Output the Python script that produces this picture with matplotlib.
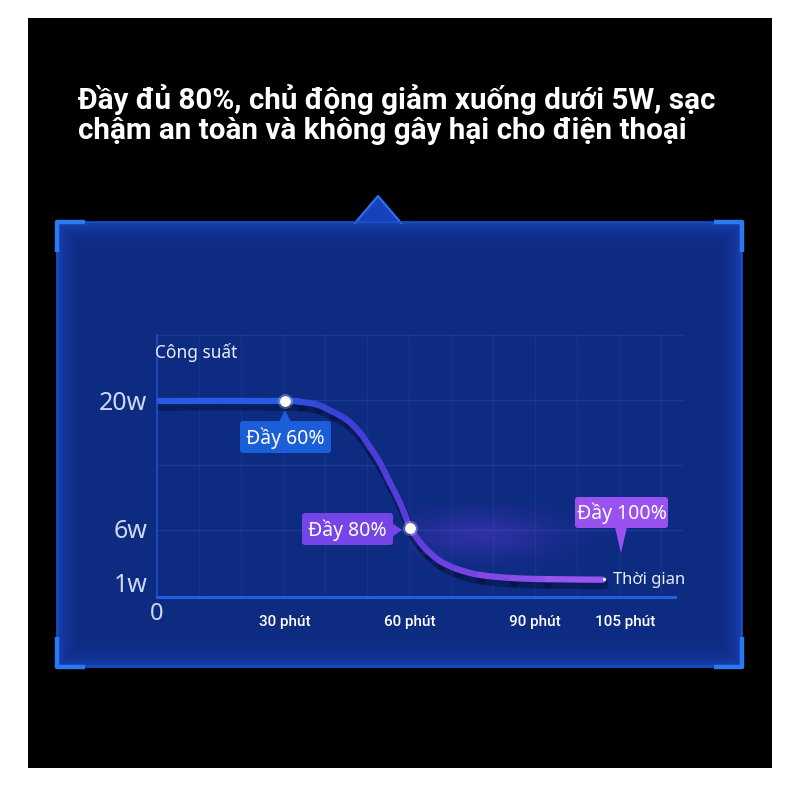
import numpy as np
import matplotlib
matplotlib.use('Agg')
import matplotlib.pyplot as plt
from matplotlib.collections import PathCollection
from matplotlib.colors import LinearSegmentedColormap, to_rgb
from matplotlib.patches import Rectangle, Polygon, FancyBboxPatch, PathPatch
from matplotlib.path import Path
from matplotlib.transforms import ScaledTranslation

plt.rcParams['font.family'] = ['Noto Sans', 'DejaVu Sans']

# values
time_min = [0, 30, 33.6, 37.7, 41.5, 44.9, 48.0, 50.4, 52.8, 55.2, 57.6, 59.5,
            60, 62.4, 64.3, 67.2, 71.3, 76.8, 84.7, 92.0, 101.3]
power_w = [20, 20, 19.9, 19.6, 18.8, 17.9, 16.5, 14.9, 13.2, 11.0, 8.8, 6.6,
           6, 4.7, 3.9, 3.0, 2.27, 1.73, 1.45, 1.35, 1.3]

mark_min = [30, 60]
mark_w = [20, 6]

x_ticks = [30, 60, 90, 105]
x_tick_labels = ['30 phút', '60 phút', '90 phút', '105 phút']
y_ticks = [1, 6, 20]
y_tick_labels = ['1w', '6w', '20w']

title_lines = ['Đầy đủ 80%, chủ động giảm xuống dưới 5W, sạc',
               'chậm an toàn và không gây hại cho điện thoại']

# uneven axes as drawn in the picture (pixel offsets from the origin)
X_KNOT_MIN = np.array([0, 30, 60, 90, 105, 120])
X_KNOT_PX = np.array([0, 128, 253, 378, 468, 558])
Y_KNOT_W = np.array([0, 1, 6, 20, 30])
Y_KNOT_PX = np.array([0, 14, 69, 196, 287])


def x_fwd(v):
    return np.interp(v, X_KNOT_MIN, X_KNOT_PX)

def x_inv(p):
    return np.interp(p, X_KNOT_PX, X_KNOT_MIN)

def y_fwd(v):
    return np.interp(v, Y_KNOT_W, Y_KNOT_PX)

def y_inv(p):
    return np.interp(p, Y_KNOT_PX, Y_KNOT_W)


def smooth_paths(xs, ys):
    """one cubic bezier per pair of read points (catmull-rom handles),
    built in scaled space so the bend is drawn round"""
    px = x_fwd(np.asarray(xs, float))
    py = y_fwd(np.asarray(ys, float))
    P = np.column_stack([px, py])
    P = np.vstack([P[0], P, P[-1]])
    paths = []
    for i in range(1, len(P) - 2):
        p0, p1, p2, p3 = P[i - 1], P[i], P[i + 1], P[i + 2]
        c1 = p1 + (p2 - p0) / 6.0
        c2 = p2 - (p3 - p1) / 6.0
        v = np.array([p1, c1, c2, p2])
        v = np.column_stack([x_inv(v[:, 0]), y_inv(v[:, 1])])
        paths.append(Path(v, [Path.MOVETO, Path.CURVE4, Path.CURVE4, Path.CURVE4]))
    return paths


fig = plt.figure(figsize=(8, 8), dpi=100)
fig.patch.set_facecolor('white')

# ---- background / decoration in pixel coords
bg = fig.add_axes([0, 0, 1, 1], zorder=0)
bg.set_axis_off()
bg.add_patch(Rectangle((28, 18), 744, 750, fc='black', ec='none', zorder=0))

H, W = 445, 685
yy, xx = np.mgrid[0:H, 0:W]
d = np.minimum.reduce([xx, W - 1 - xx, yy, H - 1 - yy]).astype(float)
edge = np.exp(-d / 9.0) * 0.8
base = np.array(to_rgb('#0e2b82'))
rim = np.array(to_rgb('#1a48c4'))
img = base + (rim - base) * edge[..., None]
bg.imshow(img, extent=(57, 742, 667, 222), aspect='auto',
          interpolation='bilinear', zorder=1)

bg.add_patch(Polygon([(355, 223), (378, 196), (401, 223)], closed=True,
                     fc='#1542ba', ec='none', zorder=2))
bg.plot([355, 378, 401], [223, 196, 223], color='#2c72ee', lw=1.6, zorder=3)
bg.add_patch(Rectangle((57, 222), 685, 445, fc='none', ec='#1d50cc',
                       lw=1.2, zorder=3))
for cx, cy, sx, sy in [(57, 222, 1, 1), (742, 222, -1, 1),
                       (57, 667, 1, -1), (742, 667, -1, -1)]:
    bg.plot([cx + sx * 28, cx, cx], [cy, cy, cy + sy * 30],
            color='#2b7af3', lw=3.2, solid_capstyle='butt', zorder=4)

# faint grid
for gy in [335, 400, 465, 530]:
    bg.plot([157, 682], [gy, gy], color='#3358c4', lw=1, alpha=0.35, zorder=2)
for gx in np.arange(199, 682, 42):
    bg.plot([gx, gx], [335, 597], color='#2f52bc', lw=1, alpha=0.22, zorder=2)

# purple haze right of the 80% point
hy, hx = np.mgrid[0:70, 0:200]
alpha = np.exp(-(((hx - 70) / 75.0) ** 2 + ((hy - 32) / 22.0) ** 2)) * 0.35
haze = np.zeros((70, 200, 4))
haze[..., :3] = to_rgb('#6a3ae0')
haze[..., 3] = alpha
bg.imshow(haze, extent=(410, 610, 572, 502), aspect='auto',
          interpolation='bilinear', zorder=2)

bg.set_xlim(0, 800)
bg.set_ylim(800, 0)

# ---- the chart itself
ax = fig.add_axes([157 / 800, 203 / 800, 518 / 800, 262 / 800], zorder=1)
ax.patch.set_alpha(0)
ax.set_xscale('function', functions=(x_fwd, x_inv))
ax.set_yscale('function', functions=(y_fwd, y_inv))
ax.set_xlim(0, x_inv(518))
ax.set_ylim(0, y_inv(262))

for s in ['top', 'right']:
    ax.spines[s].set_visible(False)
ax.spines['left'].set_color('#1f50c8')
ax.spines['left'].set_linewidth(1.2)
ax.spines['bottom'].set_color('#1f5fe4')
ax.spines['bottom'].set_linewidth(2.2)

ax.set_xticks(x_ticks)
ax.set_xticklabels(x_tick_labels, fontsize=11, color='white',
                   family=['Roboto', 'DejaVu Sans'], weight='medium')
ax.set_yticks(y_ticks)
ax.set_yticklabels(y_tick_labels, fontsize=18, color='#cdd8f2')
ax.tick_params(axis='x', length=0, pad=13)
ax.tick_params(axis='y', length=0, pad=7)
ax.minorticks_off()
ax.annotate('0', xy=(0, 0), xytext=(0, -12), textcoords='offset points',
            ha='center', va='center', fontsize=17, color='#cdd8f2')

paths = smooth_paths(time_min, power_w)

# shadow under the curve
shadow = ScaledTranslation(1.5 / 100, -5 / 100, fig.dpi_scale_trans)
for p in paths:
    ax.add_patch(PathPatch(p, fc='none', ec='#06113f', lw=6.5, alpha=0.55,
                           capstyle='round', transform=ax.transData + shadow,
                           zorder=2))

# gradient curve
cmap = LinearSegmentedColormap.from_list(
    'curve', [(0, '#1f62e6'), (0.28, '#2d55e2'), (0.42, '#3a40d4'),
              (0.57, '#5a3edc'), (0.75, '#7c46e6'), (1.0, '#a35ef6')])
mid = (np.array(time_min[:-1]) + np.array(time_min[1:])) / 2 / 105
pc = PathCollection(paths, facecolors='none', edgecolors=cmap(mid),
                    linewidths=4.5, capstyle='round', joinstyle='round',
                    transform=ax.transData, zorder=3)
ax.add_collection(pc)

ax.scatter(mark_min, mark_w, s=120, color='white', alpha=0.25, lw=0, zorder=4)
ax.scatter(mark_min, mark_w, s=60, color='white', lw=0, zorder=5)

# ---- labels on top (pixel coords)
ov = fig.add_axes([0, 0, 1, 1], zorder=2)
ov.set_axis_off()
ov.patch.set_alpha(0)
ov.set_xlim(0, 800)
ov.set_ylim(800, 0)


def tag(x0, y0, x1, y1, color, text, pointer):
    ov.add_patch(FancyBboxPatch((x0, y0), x1 - x0, y1 - y0,
                                boxstyle='round,pad=0,rounding_size=3',
                                fc=color, ec='none'))
    ov.add_patch(Polygon(pointer, closed=True, fc=color, ec='none'))
    ov.text((x0 + x1) / 2, (y0 + y1) / 2 + 1, text, ha='center', va='center',
            fontsize=14, color='white')


tag(240, 421, 331, 453, '#1a5fd8', 'Đầy 60%',
    [(279, 422), (291, 422), (285, 410)])
tag(302, 513, 393, 545, '#7545e8', 'Đầy 80%',
    [(392, 523), (392, 537), (402, 530)])
tag(575, 497, 668, 528, '#9952f0', 'Đầy 100%',
    [(615, 527), (627, 527), (621, 553)])

ov.text(155, 352, 'Công suất', ha='left', va='center', fontsize=12.5,
        color='#e6ecfa')
ov.scatter([604], [579], s=5, color='white', lw=0)
ov.text(613, 580, 'Thời gian', ha='left', va='center', fontsize=12,
        color='#e6ecfa')

for i, line in enumerate(title_lines):
    fig.text(78 / 800, 1 - (100 + 31 * i) / 800, line, ha='left', va='center',
             fontsize=21.3, weight='bold', color='white',
             family=['Roboto', 'DejaVu Sans'])

fig.savefig('out.png', dpi=100)
